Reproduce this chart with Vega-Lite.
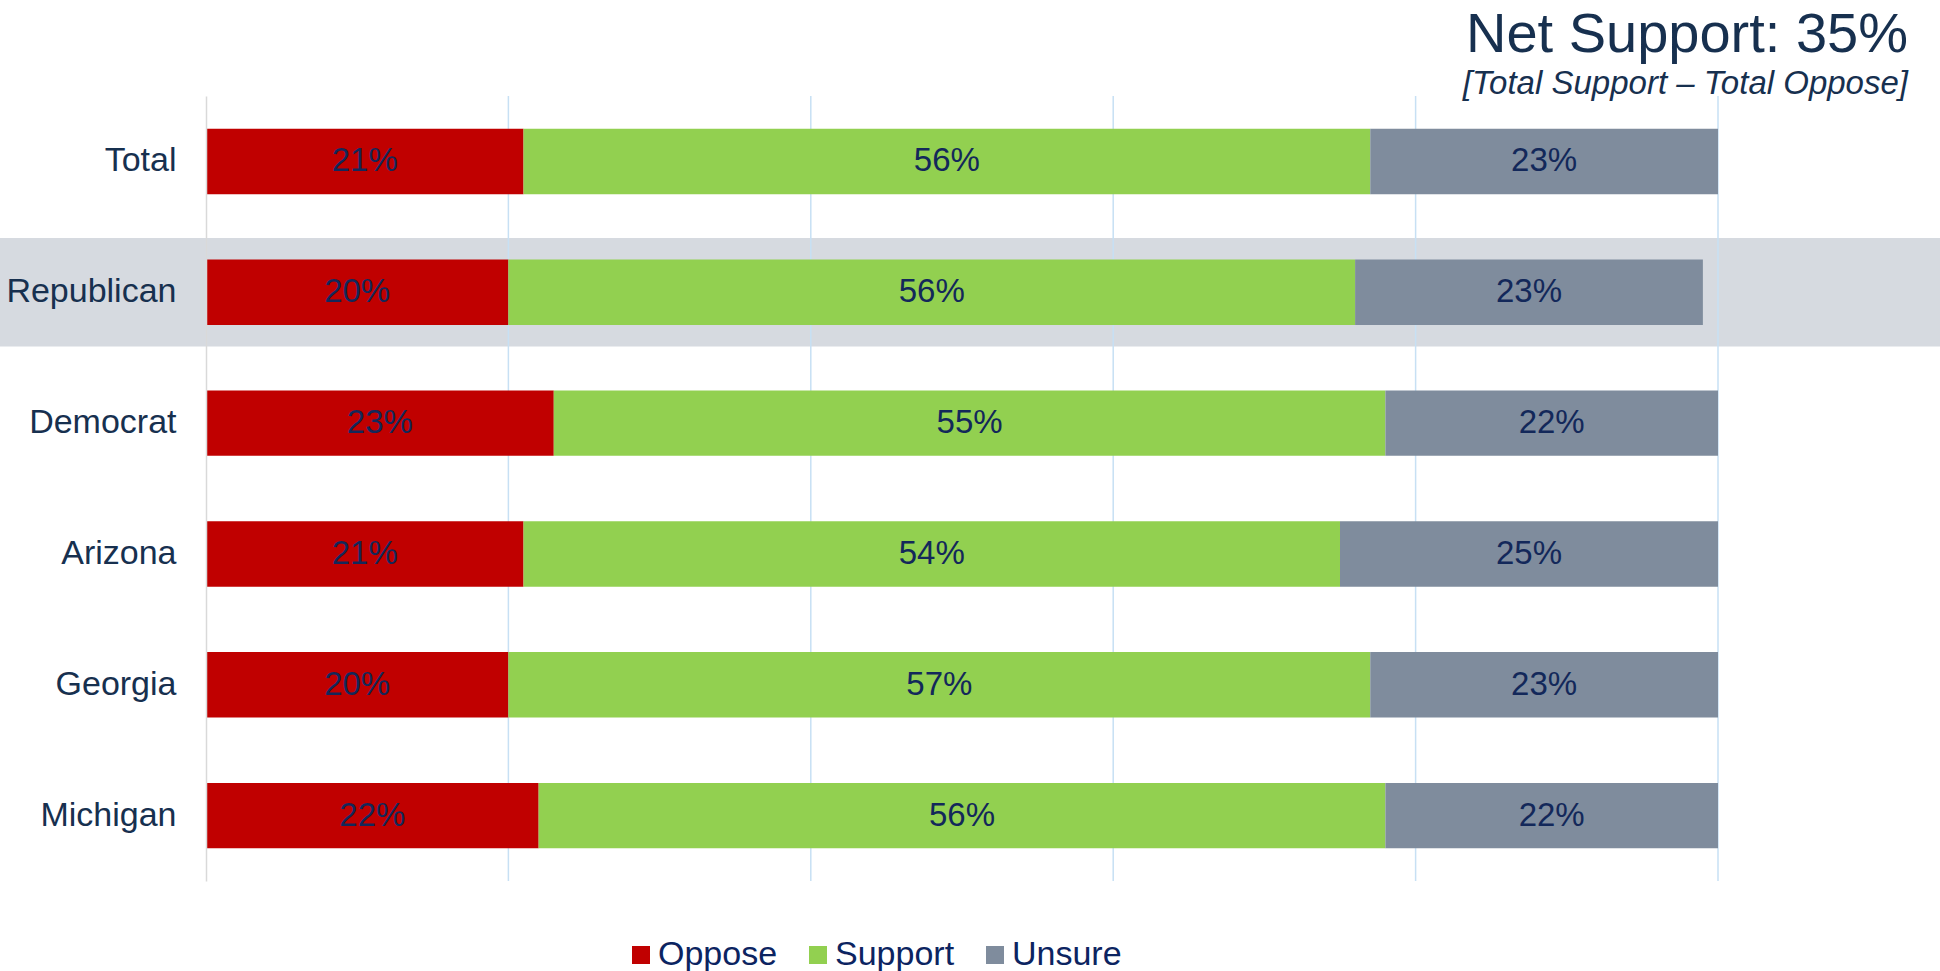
{
  "$schema": "https://vega.github.io/schema/vega-lite/v6.json",
  "width": 1512,
  "height": 785,
  "autosize": {"type": "none"},
  "padding": {"left": 206, "top": 96, "right": 222, "bottom": 90},
  "background": "white",
  "config": {"view": {"stroke": null}, "font": "Liberation Sans"},
  "title": {
    "text": "Net Support: 35%",
    "subtitle": "[Total Support – Total Oppose]",
    "anchor": "end",
    "frame": "group",
    "dx": 190,
    "offset": -7,
    "font": "Liberation Sans",
    "fontSize": 56,
    "fontWeight": "normal",
    "color": "#17304F",
    "subtitleFont": "Liberation Sans",
    "subtitleFontSize": 33,
    "subtitleFontStyle": "italic",
    "subtitleColor": "#17304F",
    "subtitlePadding": 4
  },
  "datasets": {
    "survey": [
      {"group": "Total", "response": "Oppose", "pct": 0.21},
      {"group": "Total", "response": "Support", "pct": 0.56},
      {"group": "Total", "response": "Unsure", "pct": 0.23},
      {"group": "Republican", "response": "Oppose", "pct": 0.20},
      {"group": "Republican", "response": "Support", "pct": 0.56},
      {"group": "Republican", "response": "Unsure", "pct": 0.23},
      {"group": "Democrat", "response": "Oppose", "pct": 0.23},
      {"group": "Democrat", "response": "Support", "pct": 0.55},
      {"group": "Democrat", "response": "Unsure", "pct": 0.22},
      {"group": "Arizona", "response": "Oppose", "pct": 0.21},
      {"group": "Arizona", "response": "Support", "pct": 0.54},
      {"group": "Arizona", "response": "Unsure", "pct": 0.25},
      {"group": "Georgia", "response": "Oppose", "pct": 0.20},
      {"group": "Georgia", "response": "Support", "pct": 0.57},
      {"group": "Georgia", "response": "Unsure", "pct": 0.23},
      {"group": "Michigan", "response": "Oppose", "pct": 0.22},
      {"group": "Michigan", "response": "Support", "pct": 0.56},
      {"group": "Michigan", "response": "Unsure", "pct": 0.22}
    ],
    "grid": [
      {"tick": 0.2}, {"tick": 0.4}, {"tick": 0.6}, {"tick": 0.8}, {"tick": 1.0}
    ]
  },
  "encoding": {
    "y": {
      "field": "group",
      "type": "nominal",
      "sort": ["Total", "Republican", "Democrat", "Arizona", "Georgia", "Michigan"],
      "scale": {"paddingInner": 0.5, "paddingOuter": 0.25},
      "axis": {
        "title": null,
        "zindex": 1,
        "labelFont": "Liberation Sans",
        "labelFontSize": 34,
        "labelColor": "#17304F",
        "labelPadding": 30,
        "ticks": false,
        "domain": true,
        "domainColor": "#D9D9D9",
        "domainWidth": 1.5
      }
    }
  },
  "layer": [
    {
      "data": {"name": "survey"},
      "transform": [{"filter": "datum.group === 'Republican' && datum.response === 'Oppose'"}],
      "mark": {"type": "bar", "color": "#D6DAE0", "height": {"band": 1.66}, "clip": false},
      "encoding": {
        "x": {"datum": -0.137, "type": "quantitative", "scale": {"domain": [0, 1], "nice": false}, "axis": null},
        "x2": {"datum": 1.15}
      }
    },
    {
      "data": {"name": "grid"},
      "mark": {"type": "rule", "color": "#C7E0F4", "strokeWidth": 1.5},
      "encoding": {
        "x": {"field": "tick", "type": "quantitative", "axis": null},
        "y": null
      }
    },
    {
      "data": {"name": "survey"},
      "mark": {"type": "bar"},
      "encoding": {
        "x": {"field": "pct", "type": "quantitative", "stack": "zero", "axis": null},
        "order": {"field": "response", "sort": "ascending"},
        "color": {
          "field": "response",
          "type": "nominal",
          "scale": {"domain": ["Oppose", "Support", "Unsure"], "range": ["#C00000", "#92D050", "#7F8C9D"]},
          "legend": {
            "orient": "none",
            "legendX": 418,
            "legendY": 842,
            "direction": "horizontal",
            "title": null,
            "symbolType": "square",
            "symbolSize": 324,
            "symbolStrokeWidth": 0,
            "symbolOpacity": 1,
            "labelFont": "Liberation Sans",
            "labelFontSize": 34,
            "labelColor": "#0C2461",
            "labelOffset": 0,
            "columnPadding": 23
          }
        }
      }
    },
    {
      "data": {"name": "survey"},
      "mark": {"type": "text", "font": "Liberation Sans", "fontSize": 33, "color": "#13285A", "baseline": "middle", "align": "center"},
      "encoding": {
        "x": {"field": "pct", "type": "quantitative", "stack": "zero", "bandPosition": 0.5, "axis": null},
        "order": {"field": "response", "sort": "ascending"},
        "text": {"field": "pct", "type": "quantitative", "format": ".0%"},
        "detail": {"field": "response"}
      }
    }
  ]
}
